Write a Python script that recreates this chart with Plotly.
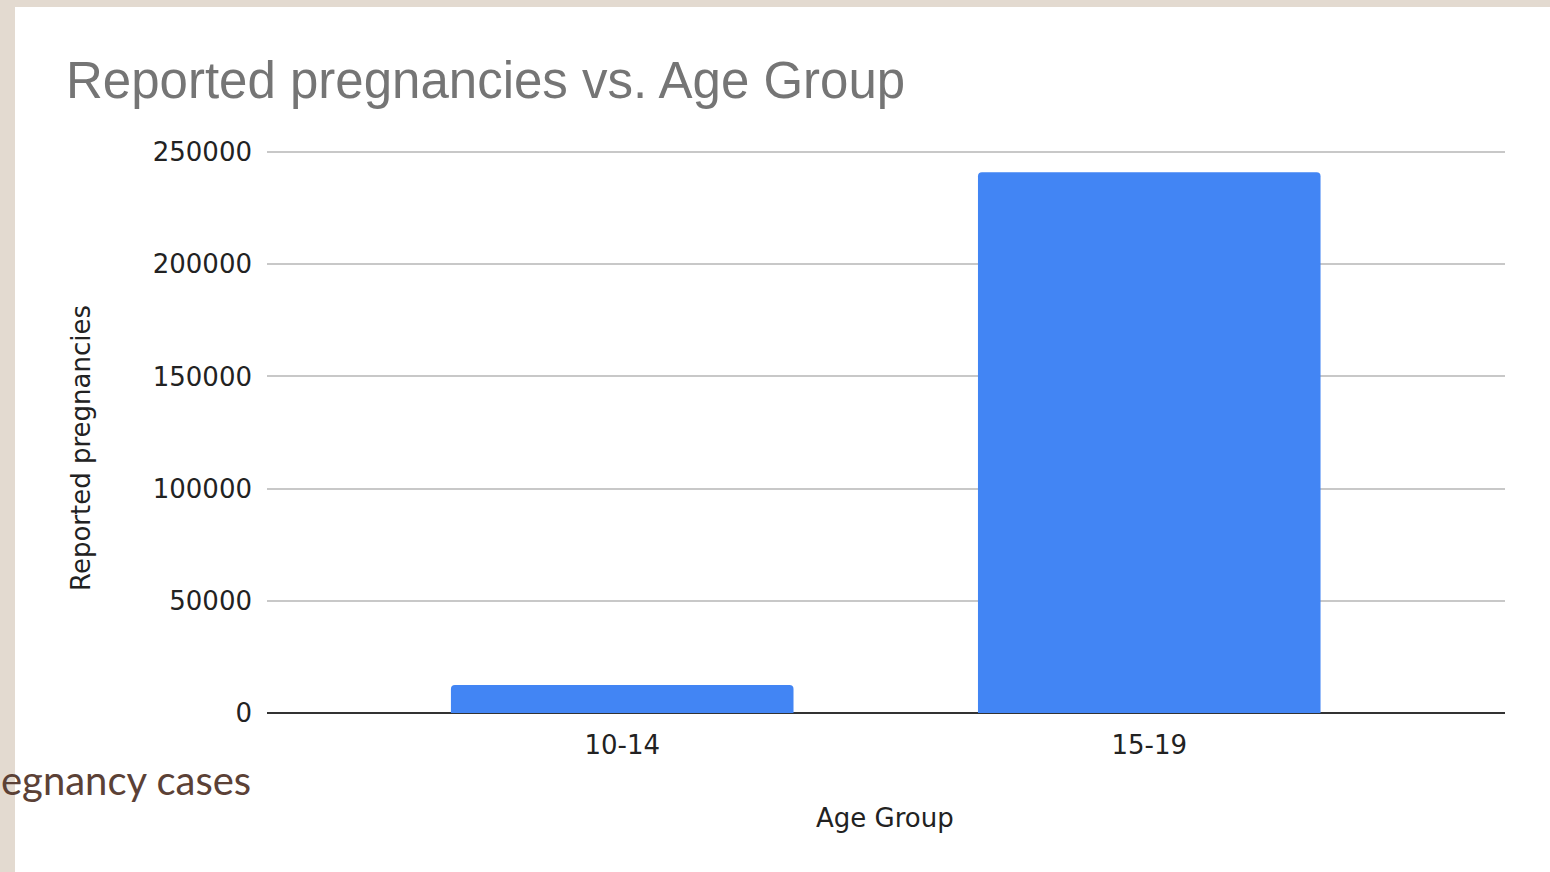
import plotly.graph_objects as go

categories = ["10-14", "15-19"]
pregnancies = [12500, 241000]
y_ticks = [0, 50000, 100000, 150000, 200000, 250000]

W, H = 1550, 872
L, R, T, B = 267, 45, 151, 159
PW, PH = W - L - R, H - T - B

def px(x):
    return (x - L) / PW

def py(y):
    return (H - B - y) / PH

BEIGE = "#E3DAD0"
AXIS_TEXT = "#222222"

fig = go.Figure()
fig.add_trace(go.Bar(
    x=categories, y=pregnancies,
    marker=dict(color="#4285F4", line=dict(width=0), cornerradius=4),
    width=0.65,
))

shapes = [
    dict(type="rect", xref="paper", yref="paper", x0=px(0), x1=px(15), y0=py(H), y1=py(0),
         fillcolor=BEIGE, line=dict(width=0), layer="below"),
    dict(type="rect", xref="paper", yref="paper", x0=px(0), x1=px(W), y0=py(7), y1=py(0),
         fillcolor=BEIGE, line=dict(width=0), layer="below"),
]

annotations = [
    dict(text="Reported pregnancies vs. Age Group", xref="paper", yref="paper",
         x=px(64), y=py(80), xanchor="left", yanchor="middle", showarrow=False,
         font=dict(family="Liberation Sans, Arial", size=51, color="#757575")),
    dict(text="egnancy cases", xref="paper", yref="paper",
         x=px(253), y=py(780), xanchor="right", yanchor="middle", showarrow=False,
         font=dict(family="Lato, Open Sans", size=40, color="#5B4136")),
    dict(text="Reported pregnancies", xref="paper", yref="paper",
         x=px(81), y=py(448), xanchor="center", yanchor="middle", textangle=-90,
         showarrow=False, font=dict(family="DejaVu Sans", size=26, color=AXIS_TEXT)),
    dict(text="Age Group", xref="paper", yref="paper",
         x=px(885), y=py(818), xanchor="center", yanchor="middle",
         showarrow=False, font=dict(family="DejaVu Sans", size=26, color=AXIS_TEXT)),
]

fig.update_layout(
    width=W, height=H,
    margin=dict(l=L, r=R, t=T, b=B, pad=0),
    paper_bgcolor="white", plot_bgcolor="white",
    showlegend=False,
    shapes=shapes, annotations=annotations,
    font=dict(family="DejaVu Sans", color=AXIS_TEXT),
)
fig.update_xaxes(
    range=[-0.674, 1.675], showgrid=False, showline=False, zeroline=False,
    tickfont=dict(size=26, color=AXIS_TEXT), ticks="", ticklabelstandoff=14,
)
fig.update_yaxes(
    range=[0, 250450], tickvals=y_ticks, ticktext=[str(v) for v in y_ticks],
    showgrid=True, gridcolor="#C8C8C8", gridwidth=1.5,
    zeroline=True, zerolinecolor="#333333", zerolinewidth=2,
    showline=False, ticks="", ticklabelstandoff=14,
    tickfont=dict(size=26, color=AXIS_TEXT),
)

fig.write_html(
    "out.html",
    config={"displayModeBar": False},
    post_script="document.body.style.margin='0';document.body.style.overflow='hidden';",
)
